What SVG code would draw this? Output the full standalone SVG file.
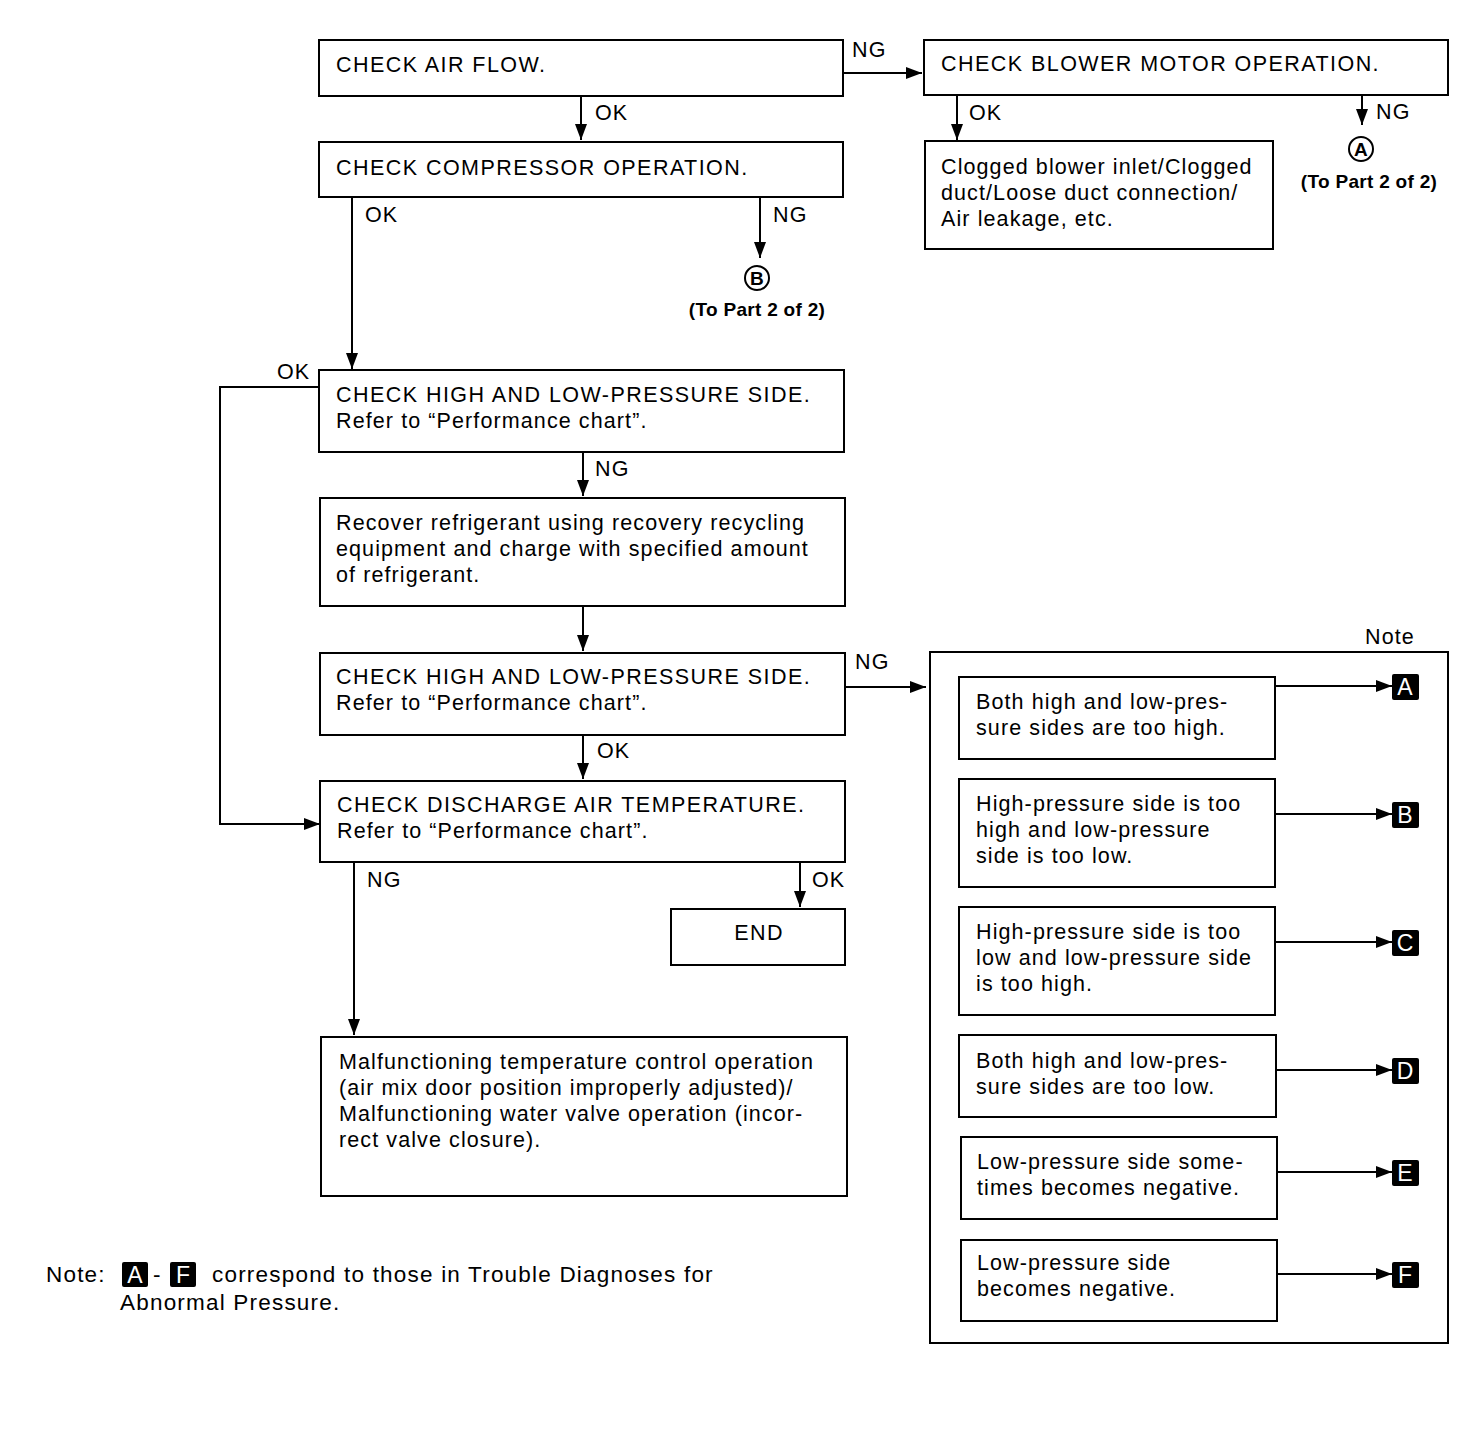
<svg xmlns="http://www.w3.org/2000/svg" width="1472" height="1440" viewBox="0 0 1472 1440">
<defs>
<marker id="ah" markerWidth="16" markerHeight="12" refX="16" refY="6" orient="auto" markerUnits="userSpaceOnUse">
<path d="M0,0 L16,6 L0,12 Z" fill="#000"/>
</marker>
<style>
.box{fill:#fff;stroke:#000;stroke-width:2}
.panel{fill:none;stroke:#000;stroke-width:2}
.t{font-family:"Liberation Sans",Arial,sans-serif;font-size:21.5px;letter-spacing:1.1px;fill:#000}
.cap{letter-spacing:1.45px}
.fn{font-family:"Liberation Sans",Arial,sans-serif;font-size:22.5px;letter-spacing:1.2px;fill:#000}
.s{font-family:"Liberation Sans",Arial,sans-serif;font-size:19px;letter-spacing:0.3px;font-weight:bold;fill:#000}
.a{fill:none;stroke:#000;stroke-width:2;marker-end:url(#ah)}
.sq{fill:#000}
.sqt{font-family:"Liberation Sans",Arial,sans-serif;font-size:23px;fill:#fff;text-anchor:middle}
</style>
</defs>
<rect width="1472" height="1440" fill="#fff"/>

<g id="n_airflow"><rect class="box" x="319" y="40" width="524" height="56"/><text class="t cap" x="336" y="72">CHECK AIR FLOW.</text></g>
<g id="n_blower"><rect class="box" x="924" y="40" width="524" height="55"/><text class="t cap" x="941" y="71">CHECK BLOWER MOTOR OPERATION.</text></g>
<g id="n_clogged"><rect class="box" x="925" y="141" width="348" height="108"/>
<text class="t" x="941" y="174">Clogged blower inlet/Clogged</text>
<text class="t" x="941" y="200">duct/Loose duct connection/</text>
<text class="t" x="941" y="226">Air leakage, etc.</text></g>
<g id="n_partA"><circle cx="1361" cy="149" r="12" fill="none" stroke="#000" stroke-width="2"/>
<text class="s" x="1361" y="156" text-anchor="middle">A</text>
<text class="s" x="1369" y="188" text-anchor="middle">(To Part 2 of 2)</text></g>
<g id="n_compressor"><rect class="box" x="319" y="142" width="524" height="55"/><text class="t cap" x="336" y="175">CHECK COMPRESSOR OPERATION.</text></g>
<g id="n_partB"><circle cx="757" cy="278" r="12" fill="none" stroke="#000" stroke-width="2"/>
<text class="s" x="757" y="285" text-anchor="middle">B</text>
<text class="s" x="757" y="316" text-anchor="middle">(To Part 2 of 2)</text></g>
<g id="n_hl1"><rect class="box" x="319" y="370" width="525" height="82"/>
<text class="t cap" x="336" y="402">CHECK HIGH AND LOW-PRESSURE SIDE.</text>
<text class="t" x="336" y="428">Refer to “Performance chart”.</text></g>
<g id="n_recover"><rect class="box" x="320" y="498" width="525" height="108"/>
<text class="t" x="336" y="530">Recover refrigerant using recovery recycling</text>
<text class="t" x="336" y="556">equipment and charge with specified amount</text>
<text class="t" x="336" y="582">of refrigerant.</text></g>
<g id="n_hl2"><rect class="box" x="320" y="653" width="525" height="82"/>
<text class="t cap" x="336" y="684">CHECK HIGH AND LOW-PRESSURE SIDE.</text>
<text class="t" x="336" y="710">Refer to “Performance chart”.</text></g>
<g id="n_discharge"><rect class="box" x="320" y="781" width="525" height="81"/>
<text class="t cap" x="337" y="812">CHECK DISCHARGE AIR TEMPERATURE.</text>
<text class="t" x="337" y="838">Refer to “Performance chart”.</text></g>
<g id="n_end"><rect class="box" x="671" y="909" width="174" height="56"/><text class="t cap" x="759" y="940" text-anchor="middle">END</text></g>
<g id="n_malf"><rect class="box" x="321" y="1037" width="526" height="159"/>
<text class="t" x="339" y="1069">Malfunctioning temperature control operation</text>
<text class="t" x="339" y="1095">(air mix door position improperly adjusted)/</text>
<text class="t" x="339" y="1121">Malfunctioning water valve operation (incor-</text>
<text class="t" x="339" y="1147">rect valve closure).</text></g>

<g id="n_note">
<text class="t" x="1365" y="644">Note</text>
<rect class="panel" x="930" y="652" width="518" height="691"/>
</g>
<g id="n_a"><rect class="box" x="959" y="677" width="316" height="82"/>
<text class="t" x="976" y="709">Both high and low-pres-</text>
<text class="t" x="976" y="735">sure sides are too high.</text>
<rect class="sq" x="1392" y="674" width="27" height="26" rx="2"/><text class="sqt" x="1405" y="695">A</text></g>
<g id="n_b"><rect class="box" x="959" y="779" width="316" height="108"/>
<text class="t" x="976" y="811">High-pressure side is too</text>
<text class="t" x="976" y="837">high and low-pressure</text>
<text class="t" x="976" y="863">side is too low.</text>
<rect class="sq" x="1392" y="802" width="27" height="26" rx="2"/><text class="sqt" x="1405" y="823">B</text></g>
<g id="n_c"><rect class="box" x="959" y="907" width="316" height="108"/>
<text class="t" x="976" y="939">High-pressure side is too</text>
<text class="t" x="976" y="965">low and low-pressure side</text>
<text class="t" x="976" y="991">is too high.</text>
<rect class="sq" x="1392" y="930" width="27" height="26" rx="2"/><text class="sqt" x="1405" y="951">C</text></g>
<g id="n_d"><rect class="box" x="959" y="1035" width="317" height="82"/>
<text class="t" x="976" y="1068">Both high and low-pres-</text>
<text class="t" x="976" y="1094">sure sides are too low.</text>
<rect class="sq" x="1392" y="1058" width="27" height="26" rx="2"/><text class="sqt" x="1405" y="1079">D</text></g>
<g id="n_e"><rect class="box" x="961" y="1137" width="316" height="82"/>
<text class="t" x="977" y="1169">Low-pressure side some-</text>
<text class="t" x="977" y="1195">times becomes negative.</text>
<rect class="sq" x="1392" y="1160" width="27" height="26" rx="2"/><text class="sqt" x="1405" y="1181">E</text></g>
<g id="n_f"><rect class="box" x="961" y="1240" width="316" height="81"/>
<text class="t" x="977" y="1270">Low-pressure side</text>
<text class="t" x="977" y="1296">becomes negative.</text>
<rect class="sq" x="1392" y="1262" width="27" height="26" rx="2"/><text class="sqt" x="1405" y="1283">F</text></g>

<g id="connectors">
<path class="a" d="M843,73 H922"/>
<path class="a" d="M581,96 V140"/>
<path class="a" d="M957,95 V140"/>
<path class="a" d="M1362,95 V125"/>
<path class="a" d="M352,197 V369"/>
<path class="a" d="M760,197 V258"/>
<path class="a" d="M319,387 H220 V824 H320"/>
<path class="a" d="M583,452 V496"/>
<path class="a" d="M583,606 V651"/>
<path class="a" d="M845,687 H926"/>
<path class="a" d="M583,735 V779"/>
<path class="a" d="M354,862 V1035"/>
<path class="a" d="M800,862 V907"/>
<path class="a" d="M1275,686 H1392"/>
<path class="a" d="M1275,814 H1392"/>
<path class="a" d="M1275,942 H1392"/>
<path class="a" d="M1276,1070 H1392"/>
<path class="a" d="M1277,1172 H1392"/>
<path class="a" d="M1277,1274 H1392"/>
<text class="t" x="852" y="57">NG</text>
<text class="t" x="595" y="120">OK</text>
<text class="t" x="969" y="120">OK</text>
<text class="t" x="1376" y="119">NG</text>
<text class="t" x="365" y="222">OK</text>
<text class="t" x="773" y="222">NG</text>
<text class="t" x="277" y="379">OK</text>
<text class="t" x="595" y="476">NG</text>
<text class="t" x="855" y="669">NG</text>
<text class="t" x="597" y="758">OK</text>
<text class="t" x="367" y="887">NG</text>
<text class="t" x="812" y="887">OK</text>
</g>

<g id="footnote">
<text class="fn" x="46" y="1282">Note:</text>
<rect class="sq" x="122" y="1262" width="26" height="25" rx="2"/><text class="sqt" x="135" y="1283">A</text>
<text class="fn" x="153" y="1282">-</text>
<rect class="sq" x="170" y="1262" width="26" height="25" rx="2"/><text class="sqt" x="183" y="1283">F</text>
<text class="fn" x="212" y="1282">correspond to those in Trouble Diagnoses for</text>
<text class="fn" x="120" y="1310">Abnormal Pressure.</text>
</g>
</svg>
